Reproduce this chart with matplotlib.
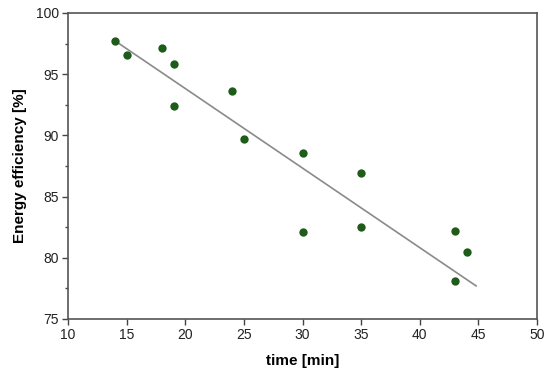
import matplotlib
matplotlib.use("Agg")
import matplotlib.pyplot as plt
from matplotlib.ticker import MultipleLocator

plt.rcParams["font.family"] = ["Liberation Sans", "DejaVu Sans"]

# Measured points
time_min = [14, 15, 18, 19, 19, 24, 25, 30, 30, 35, 35, 43, 44, 43]
efficiency = [97.7, 96.6, 97.1, 95.8, 92.4, 93.6, 89.7, 88.6, 82.1, 86.9, 82.5, 82.2, 80.5, 78.1]

# Trend line end points
fit_x = [14.2, 44.8]
fit_y = [97.6, 77.7]

fig = plt.figure(figsize=(5.5, 3.82), dpi=100)
ax = fig.add_axes([0.1236, 0.165, 0.853, 0.801])

ax.plot(fit_x, fit_y, color="#8a8a8a", linewidth=1.2, zorder=2)
ax.plot(time_min, efficiency, "o", color="#1f5c1a", markersize=6,
        markeredgewidth=0, zorder=3)

ax.set_xlim(10, 50)
ax.set_ylim(75, 100)
ax.xaxis.set_major_locator(MultipleLocator(5))
ax.yaxis.set_major_locator(MultipleLocator(5))
ax.yaxis.set_minor_locator(MultipleLocator(2.5))
ax.tick_params(axis="both", which="major", direction="out", length=4.5,
               width=1, color="#444444", labelsize=10, pad=2, labelcolor="#222222")
ax.tick_params(axis="y", which="minor", direction="out", length=2.5,
               width=1, color="#444444")

for spine in ax.spines.values():
    spine.set_color("#555555")
    spine.set_linewidth(1.2)

ax.set_xlabel("time [min]", fontsize=11, fontweight="bold", labelpad=9)
ax.set_ylabel("Energy efficiency [%]", fontsize=11, fontweight="bold", labelpad=6)

fig.savefig("out.png", dpi=100)
